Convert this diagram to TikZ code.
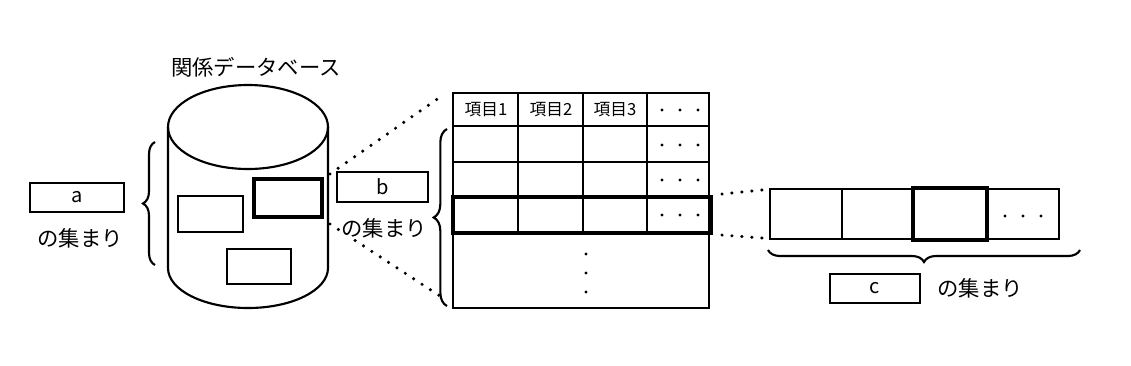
\documentclass[tikz,border=0pt]{standalone}
\usepackage{fontspec}
\setmainfont{Noto Sans CJK JP}
\usetikzlibrary{decorations.pathreplacing,fit}
\begin{document}
\begin{tikzpicture}[x=0.75pt,y=-0.75pt,
  ln/.style={line width=1.6pt},
  box/.style={draw, line width=1.6pt, inner sep=0pt, fill=white},
  hbox/.style={draw, line width=3.3pt, inner sep=0pt},
  dotline/.style={line width=2.6pt, line cap=round, dash pattern=on 0pt off 7.5pt},
  brc/.style={decorate, decoration={brace, amplitude=#1}, line width=1.6pt},
  lbl/.style={font=\fontsize{16}{18}\selectfont, inner sep=1pt},
  letter/.style={font=\fontsize{15}{17}\selectfont, inner sep=0pt},
  hdr/.style={font=\fontsize{12.5}{14}\selectfont, inner sep=0pt},
  dot/.style={circle, fill=black, inner sep=0pt, minimum size=2.3pt},
]
\path[use as bounding box] (0,0) rectangle (1131,365);

% title
\node[lbl] (title) at (256,67) {関係データベース};

% cylinder
\draw[ln, fill=white] (168,127) -- (168,268) arc[start angle=180, end angle=0, x radius=80, y radius=40] -- (328,127);
\draw[ln] (248,127) ellipse [x radius=80, y radius=42];
\node[box, fit={(178,196) (243,232)}] (r1) {};
\node[hbox, fit={(254,179) (322,217)}] (r2) {};
\node[box, fit={(227,249) (291,284)}] (r3) {};

% left: a
\node[box, fit={(30,183) (124,212)}] (a) {};
\node[letter] (atxt) at (a.center) {a};
\node[lbl] (alab) at (80,238) {の集まり};
\draw[brc=9pt] (155,265) -- (155,142);

% dotted lines from cylinder to table
\coordinate (cu) at (330,174);
\coordinate (cl) at (330,224);
\coordinate (tu) at (443,95);
\coordinate (tl) at (443,298);
\draw[dotline] (cu) -- (tu);
\draw[dotline] (cl) -- (tl);

% b
\node[box, fit={(337,172) (428,202)}] (b) {};
\node[letter] (btxt) at (b.center) {b};
\node[lbl, fill=white] (blab) at (384,228) {の集まり};

% table
\node[draw, ln, inner sep=0pt, fit={(453,93) (709,308)}] (tab) {};
\draw[ln] (453,126) -- (709,126);
\draw[ln] (453,162) -- (709,162);
\draw[ln] (518,93) -- (518,233);
\draw[ln] (583,93) -- (583,233);
\draw[ln] (647,93) -- (647,233);
\node[hbox, fit={(453,197) (711,233)}] (row) {};
\node[hdr] (h1) at (486,110) {項目1};
\node[hdr] (h2) at (551,110) {項目2};
\node[hdr] (h3) at (615,110) {項目3};
\foreach \y in {110,145,180,215} {
  \foreach \x in {662,680,698} { \node[dot] at (\x,\y) {}; }
}
\foreach \y in {254,273,292} { \node[dot] at (586,\y) {}; }
\draw[brc=10pt] (447,306) -- (447,129);

% dotted lines from row to record
\coordinate (ru) at (722,194);
\coordinate (rl) at (722,235);
\coordinate (su) at (762,190);
\coordinate (sl) at (762,238);
\draw[dotline] (ru) -- (su);
\draw[dotline] (rl) -- (sl);

% record
\node[draw, ln, inner sep=0pt, fit={(770,189) (1059,239)}] (rec) {};
\draw[ln] (842,189) -- (842,239);
\node[hbox, fit={(913,188) (987,240)}] (fld) {};
\foreach \x in {1005,1023,1041} { \node[dot] at (\x,216) {}; }
\draw[brc=9pt] (1080,250) -- (768,250);

% c
\node[box, fit={(830,274) (920,303)}] (c) {};
\node[letter] (ctxt) at (c.center) {c};
\node[lbl] (clab) at (980,288) {の集まり};
\end{tikzpicture}
\end{document}
